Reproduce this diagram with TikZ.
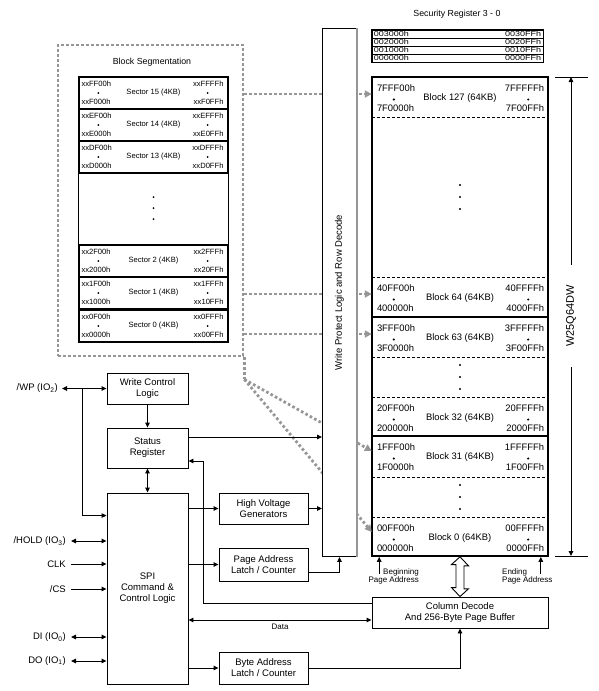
\documentclass[tikz,border=0pt]{standalone}
\usepackage{fontspec}
\setmainfont{Liberation Sans}
\usetikzlibrary{calc,arrows.meta}
\definecolor{dotgray}{HTML}{969696}
\tikzset{
  lab/.style={font=\fontsize{9.5}{11}\selectfont, align=center},
  smalltxt/.style={font=\fontsize{8}{8.6}\selectfont},
  unit/.style={draw, line width=0.9pt, fill=white, lab, inner sep=0pt},
  addr/.style={font=\fontsize{9.4}{10}\selectfont, inner sep=0pt},
  saddr/.style={font=\fontsize{7.6}{8}\selectfont, inner sep=0pt},
  regtxt/.style={font=\fontsize{9}{9}\selectfont, inner sep=0pt},
  blockrow/.style={minimum width=176pt, minimum height=40pt, inner sep=0pt, addr},
  secrow/.style={draw, line width=1.4pt, minimum width=149pt, minimum height=32pt, inner sep=0pt, saddr},
  regrow/.style={draw, line width=0.8pt, minimum width=171pt, minimum height=8pt, inner sep=0pt},
  segline/.style={draw=dotgray, line width=2.8pt, dash pattern=on 2.6pt off 2.4pt},
  segarrow/.style={segline, -{Triangle[length=7pt,width=7pt,fill=dotgray]}},
  conn/.style={line width=0.9pt},
  pinlab/.style={lab, anchor=east, inner sep=0pt},
  bullet/.style={circle, fill, inner sep=0pt, minimum size=2.4pt}
}

\begin{document}
\begin{tikzpicture}[x=1pt, y=-1pt, >={Triangle[length=5pt,width=4.5pt]}]
\useasboundingbox (0,0) rectangle (598,691);

% memory array
\node[draw, line width=1.6pt, minimum width=176pt, minimum height=479pt, inner sep=0pt] (arr) at (460,316.5) {};
\foreach \k/\yy/\ta/\tb/\tc/\td in {127/77/7FFF00h/7F0000h/7FFFFFh/7F00FFh, 64/277/40FF00h/400000h/40FFFFh/4000FFh, 63/317/3FFF00h/3F0000h/3FFFFFh/3F00FFh, 32/397/20FF00h/200000h/20FFFFh/2000FFh, 31/436/1FFF00h/1F0000h/1FFFFFh/1F00FFh, 0/517/00FF00h/000000h/00FFFFh/0000FFh}{
  \node[blockrow] (b\k) at (460,\yy+21) {Block \k\ (64KB)};
  \node[addr, anchor=west] at ($(b\k.west)+(5,-10)$) {\ta};
  \node[bullet] at ($(b\k.west)+(22,1.5)$) {};
  \node[addr, anchor=west] at ($(b\k.west)+(5,10.5)$) {\tb};
  \node[addr, anchor=east] at ($(b\k.east)+(-4,-10)$) {\tc};
  \node[bullet] at ($(b\k.east)+(-20,1.5)$) {};
  \node[addr, anchor=east] at ($(b\k.east)+(-4,10.5)$) {\td};
}
\foreach \yy in {117,277,357,397,477,517}
  \draw[line width=0.9pt, dash pattern=on 3pt off 2pt] (372,\yy) -- (548,\yy);
\foreach \yy in {317,436}
  \draw[line width=1.2pt] (372,\yy) -- (548,\yy);
\foreach \yy in {185,197,209,365,377,389,485,497,509}
  \node[bullet] at (460,\yy) {};

% security register
\node[font=\fontsize{8.8}{10}\selectfont] (sectitle) at (457,14) {Security Register 3 - 0};
\foreach \i/\ta/\tb in {0/003000h/0030FFh, 1/002000h/0020FFh, 2/001000h/0010FFh, 3/000000h/0000FFh}{
  \node[regrow] (r\i) at (457.5,34+8*\i) {};
  \node[regtxt, anchor=west] at ($(r\i.west)+(2,0)$) {\scalebox{1}[0.8]{\ta}};
  \node[regtxt, anchor=east] at ($(r\i.east)+(-2,0)$) {\scalebox{1}[0.8]{\tb}};
}
\draw[line width=1.4pt] (r0.north west) rectangle (r3.south east);

% block segmentation
\node[segline, minimum width=185pt, minimum height=311pt, inner sep=0pt] (seg) at (150.5,200.5) {};
\node[font=\fontsize{8.8}{10}\selectfont] (segtitle) at (152,62) {Block Segmentation};
\foreach \k/\yy/\ta/\tb/\tc/\td in {15/77/xxFF00h/xxF000h/xxFFFFh/xxF0FFh, 14/109/xxEF00h/xxE000h/xxEFFFh/xxE0FFh, 13/141/xxDF00h/xxD000h/xxDFFFh/xxD0FFh, 2/245/xx2F00h/xx2000h/xx2FFFh/xx20FFh, 1/277/xx1F00h/xx1000h/xx1FFFh/xx10FFh, 0/310/xx0F00h/xx0000h/xx0FFFh/xx00FFh}{
  \node[secrow] (s\k) at (153.5,\yy+16) {Sector \k\ (4KB)};
  \node[saddr, anchor=west] at ($(s\k.west)+(3,-9)$) {\ta};
  \node[bullet, minimum size=2pt] at ($(s\k.west)+(20,0)$) {};
  \node[saddr, anchor=west] at ($(s\k.west)+(3,9)$) {\tb};
  \node[saddr, anchor=east] at ($(s\k.east)+(-5,-9)$) {\tc};
  \node[bullet, minimum size=2pt] at ($(s\k.east)+(-21,0)$) {};
  \node[saddr, anchor=east] at ($(s\k.east)+(-5,9)$) {\td};
}
\draw[line width=1.4pt] (s15.north west) rectangle (s0.south east);
\foreach \yy in {197,208,219}
  \node[bullet, minimum size=2pt] at (153.5,\yy) {};

% dotted links
\foreach \k in {127,64,63}{
  \path ([yshift=4pt]b\k.west) coordinate (t\k);
  \draw[segarrow] (t\k -| seg.east) -- (t\k);
}
\coordinate (fork) at ($(seg.south east)+(0,22)$);
\draw[segline] (seg.south east) -- (fork);
\draw[segarrow] (fork) -- ([yshift=6pt]b31.west);
\draw[segarrow] (fork) -- ([yshift=6pt]b0.west);

% write protect
\node[unit, minimum width=34pt, minimum height=528pt] (wp) at (339.5,292.5) {};
\node[lab, rotate=90] (wptxt) at (wp) {Write Protect Logic and Row Decode};
\draw[dotgray, line width=1.5pt] (wp.north east) -- (wp.south east);

% logic blocks
\node[unit, minimum width=81pt, minimum height=31pt] (wcl) at (147.5,388.5) {Write Control\\Logic};
\node[unit, minimum width=81pt, minimum height=40pt] (sr) at (147.5,448) {Status\\Register};
\node[unit, minimum width=81pt, minimum height=191pt] (spi) at (147.5,588.5) {SPI\\Command \&\\Control Logic};
\node[unit, minimum width=89pt, minimum height=31pt] (hvg) at (263.5,508.5) {High Voltage\\Generators};
\node[unit, minimum width=89pt, minimum height=33pt] (pal) at (263.5,564.5) {Page Address\\Latch / Counter};
\node[unit, minimum width=89pt, minimum height=32pt] (bal) at (263.5,668) {Byte Address\\Latch / Counter};
\node[unit, minimum width=176pt, minimum height=31pt] (cd) at (460,612.5) {Column Decode\\And 256-Byte Page Buffer};

% pins
\node[pinlab] (pwp) at (58,388.5) {/WP (IO\textsubscript{2})};
\node[pinlab] (phold) at (66,541) {/HOLD (IO\textsubscript{3})};
\node[pinlab] (pclk) at (66,564) {CLK};
\node[pinlab] (pcs) at (66,589) {/CS};
\node[pinlab] (pdi) at (66,637) {DI (IO\textsubscript{0})};
\node[pinlab] (pdo) at (66,661) {DO (IO\textsubscript{1})};

\path ([xshift=4pt]pwp.east) coordinate (wpa);
\draw[conn,<->] (wpa |- wcl.west) -- (wcl.west);
\path ($(wcl.west)+(-24,0)$) coordinate (wpj);
\path ($(spi.north west)+(0,23)$) coordinate (spiwp);
\draw[conn,->] (wpj) |- (spiwp);
\foreach \p in {phold,pdi,pdo}{
  \path ([xshift=5pt]\p.east) coordinate (\p a);
  \draw[conn,<->] (\p a) -- (\p a -| spi.west);
}
\foreach \p in {pclk,pcs}{
  \path ([xshift=5pt]\p.east) coordinate (\p a);
  \draw[conn,->] (\p a) -- (\p a -| spi.west);
}

% connectors
\draw[conn,->] (wcl) -- (sr);
\draw[conn,<->] (sr) -- (spi);
\path ($(sr.east)+(0,-11)$) coordinate (srw);
\draw[conn,->] (srw) -- (srw -| wp.west);
\path ($(sr.east)+(0,13)$) coordinate (srin);
\path ($(cd.west)+(0,-9.5)$) coordinate (cdo);
\draw[conn,->] (cdo) -| ($(srin)+(15,0)$) -- (srin);
\draw[conn,->] (hvg.west -| spi.east) -- (hvg.west);
\draw[conn,->] (hvg.east) -- (hvg.east -| wp.west);
\draw[conn,->] (pal.west -| spi.east) -- (pal.west);
\path ($(pal.east)+(0,7.5)$) coordinate (palo);
\draw[conn,->] (palo) -| (wp.south);
\draw[conn,->] (bal.west -| spi.east) -- (bal.west);
\draw[conn,->] (bal.east) -| (cd.south);
\path ($(cd.west)+(0,7.5)$) coordinate (cdd);
\draw[conn,<->] (cdd -| spi.east) -- node[smalltxt, below=0pt] {Data} (cdd);

% array to buffer
\draw[line width=0.9pt, fill=white] (arr.south) -- ++(8.5,9) -- ++(-4.5,0) -- ++(0,23) -- ++(4.5,0) -- (cd.north) -- ++(-8.5,-9) -- ++(4.5,0) -- ++(0,-23) -- ++(-4.5,0) -- cycle;
\path ($(arr.south west)+(8,17)$) coordinate (bega);
\draw[conn,->] (bega) -- (bega |- arr.south);
\node[smalltxt, align=right, anchor=north east, inner sep=0pt] (begl) at (419,568) {Beginning\\Page Address};
\path ($(arr.south east)+(-8,17)$) coordinate (enda);
\draw[conn,->] (enda) -- (enda |- arr.south);
\node[smalltxt, align=left, anchor=north west, inner sep=0pt] (endl) at (502,568) {Ending\\Page Address};

% device size
\node[font=\fontsize{11}{12}\selectfont, rotate=90, inner xsep=20pt] (chip) at (571,316) {W25Q64DW};
\coordinate (ct) at (571,77);
\coordinate (cb) at (571,556);
\draw[conn] ($(ct)+(-16,0)$) -- ($(ct)+(17,0)$);
\draw[conn] ($(cb)+(-16,0)$) -- ($(cb)+(17,0)$);
\draw[conn,->] (chip.east) -- (ct);
\draw[conn,->] (chip.west) -- (cb);
\end{tikzpicture}
\end{document}
